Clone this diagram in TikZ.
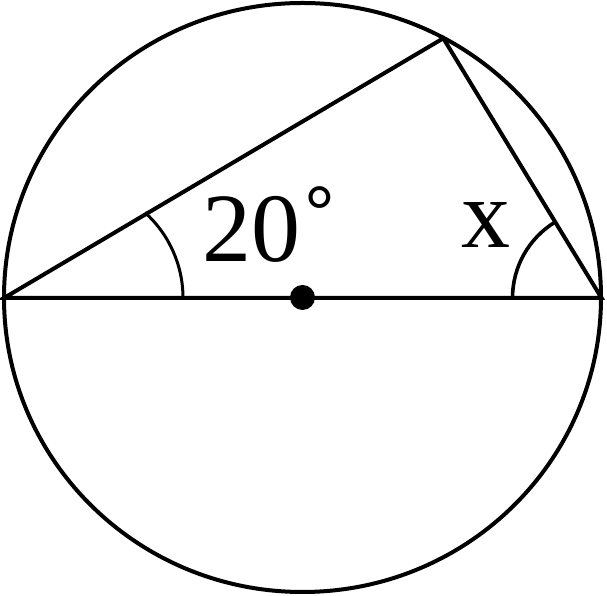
\documentclass[tikz,border=0pt]{standalone}
\usepackage{fontspec}
\setmainfont{Liberation Serif}
\begin{document}
\begin{tikzpicture}[x=1pt,y=1pt,line width=4pt]
\useasboundingbox (0,0) rectangle (607,596);
\coordinate (O) at (302.5,298.5);
\coordinate (A) at (4,298);
\coordinate (B) at (601.5,298);
\coordinate (C) at (443.3,557.7);
\draw (O) ellipse [x radius=298.5, y radius=294.5];
\draw (A) -- (B) -- (C) -- cycle;
\fill (O) circle [radius=12.5];
\draw[line width=3pt] ([shift={(0:179)}]A) arc [start angle=0, end angle=48, radius=115];
\draw[line width=3.6pt] ([shift={(180:89)}]B) arc [start angle=180, end angle=121.5, radius=89];
\node (angA) [anchor=base west, inner sep=0pt, font=\fontsize{98}{98}\selectfont] at (200,334.3) {20\hspace{5pt}\raisebox{27pt}{\fontsize{72}{72}\selectfont\bfseries °}};
\node (angB) [anchor=base west, inner sep=0pt, font=\fontsize{98}{98}\selectfont] at (459,348) {x};
\end{tikzpicture}
\end{document}
